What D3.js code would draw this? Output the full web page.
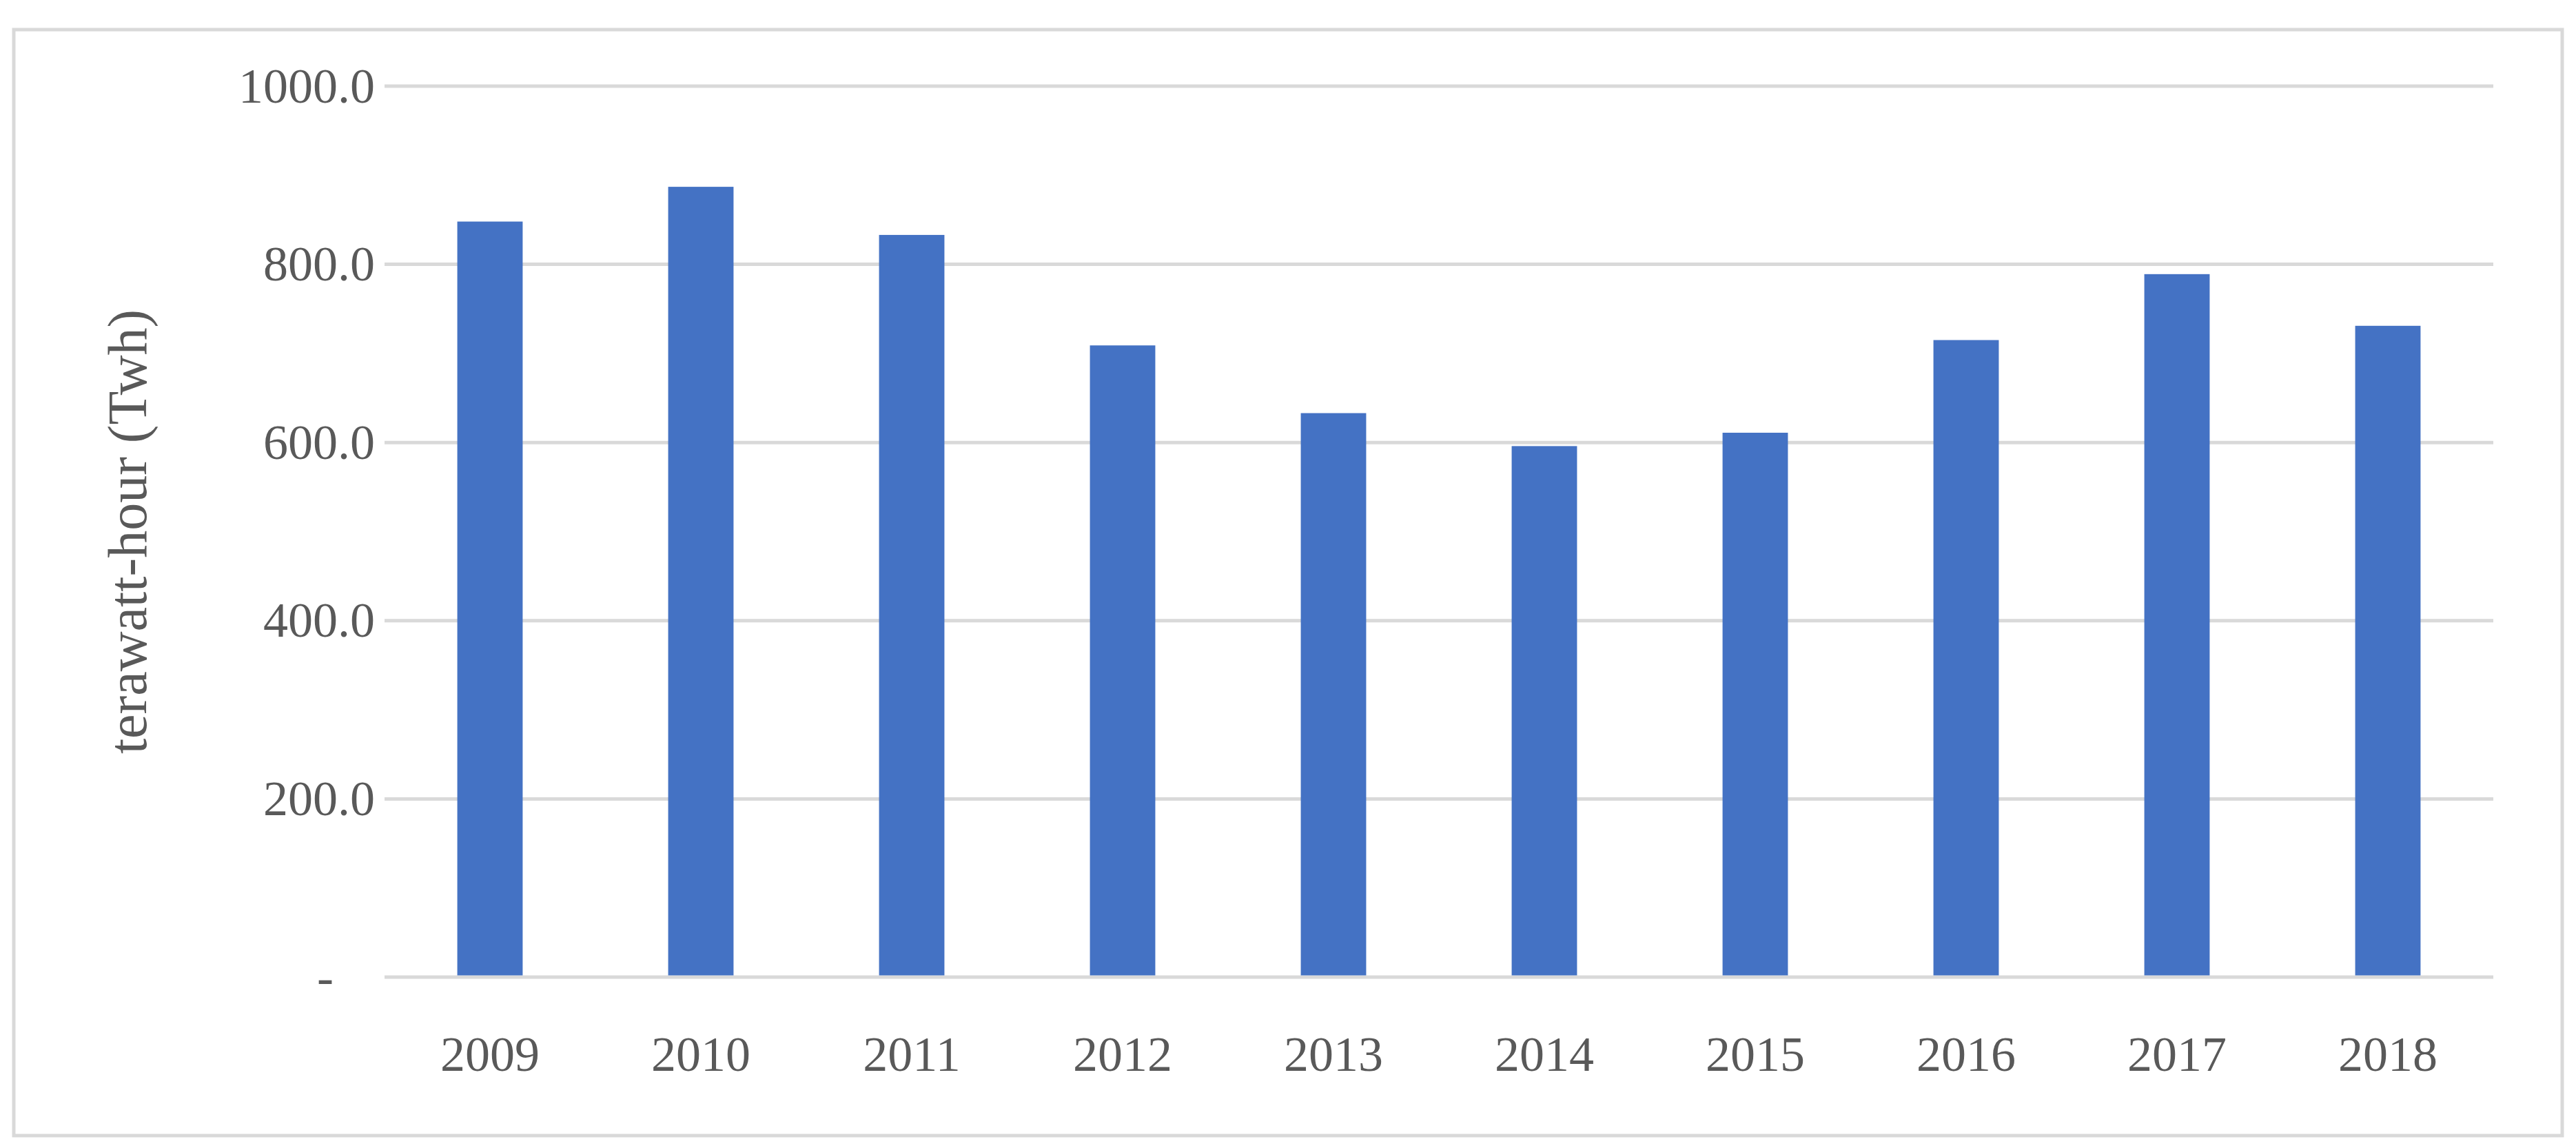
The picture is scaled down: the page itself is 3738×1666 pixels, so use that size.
<!DOCTYPE html>
<html>
<head>
<meta charset="utf-8">
<script src="https://cdn.jsdelivr.net/npm/d3@7"></script>
<style>
  body { margin: 0; background: #fff; }
  text { font-family: "Liberation Serif", "DejaVu Serif", serif; fill: #595959; }
</style>
</head>
<body>
<div id="main"></div>
<script>
// ---------------- data -----------------//
let years = ['2009', '2010', '2011', '2012', '2013', '2014', '2015', '2016', '2017', '2018'];
let energy = [848, 887, 833, 709, 633, 596, 611, 715, 789, 731];
let yTicks = [0, 200, 400, 600, 800, 1000];

// ---------------- layout -----------------//
let width = 3738;
let height = 1666;
let plotLeft = 558, plotRight = 3618, plotTop = 125, plotBottom = 1418;

let svg = d3.select("#main")
  .append("svg")
  .attr("width", width)
  .attr("height", height);

// outer frame
svg.append("rect")
  .attr("x", 20).attr("y", 43)
  .attr("width", 3698).attr("height", 1605)
  .attr("fill", "none")
  .attr("stroke", "#d9d9d9")
  .attr("stroke-width", 5);

let x = d3.scaleBand()
  .domain(years)
  .range([plotLeft, plotRight])
  .paddingInner(0.69)
  .paddingOuter(0.345);

let y = d3.scaleLinear()
  .domain([0, 1000])
  .range([plotBottom, plotTop]);

// gridlines
svg.selectAll(".grid")
  .data(yTicks)
  .join("line")
  .attr("class", "grid")
  .attr("x1", plotLeft).attr("x2", plotRight)
  .attr("y1", d => y(d)).attr("y2", d => y(d))
  .attr("stroke", "#d9d9d9")
  .attr("stroke-width", 5);

// bars
svg.selectAll(".bar")
  .data(energy)
  .join("rect")
  .attr("class", "bar")
  .attr("x", (d, i) => x(years[i]))
  .attr("y", d => y(d))
  .attr("width", x.bandwidth())
  .attr("height", d => y(0) - y(d) - 2.5)
  .attr("fill", "#4472c4");

// y axis labels
let yAxis = d3.axisLeft(y)
  .tickValues(yTicks)
  .tickSize(0)
  .tickPadding(0)
  .tickFormat(d => d === 0 ? "-" : d3.format(".1f")(d));

let yg = svg.append("g")
  .attr("transform", `translate(${plotLeft - 14}, 0)`)
  .call(yAxis);
yg.select(".domain").remove();
yg.selectAll("text")
  .style("font-size", "72px")
  .attr("fill", "#595959");
yg.selectAll(".tick").filter(d => d === 0).select("text")
  .attr("dx", -60);

// x axis labels
let xAxis = d3.axisBottom(x).tickSize(0).tickPadding(0);
let xg = svg.append("g")
  .attr("transform", `translate(0, ${plotBottom + 85})`)
  .call(xAxis);
xg.select(".domain").remove();
xg.selectAll("text")
  .style("font-size", "72px")
  .attr("fill", "#595959");

// axis title
svg.append("text")
  .attr("transform", `translate(212, ${(plotTop + plotBottom) / 2}) rotate(-90)`)
  .attr("text-anchor", "middle")
  .style("font-size", "80px")
  .text("terawatt-hour (Twh)");
</script>
</body>
</html>
